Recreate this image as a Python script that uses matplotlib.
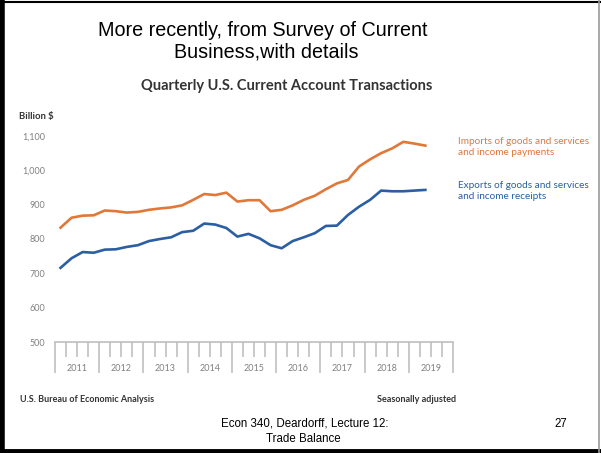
import matplotlib
matplotlib.use("Agg")
import matplotlib.pyplot as plt
from matplotlib.lines import Line2D
import matplotlib.transforms as mtransforms

# Quarterly values, 2011Q1 - 2019Q2 (billion $)
imports = [833, 862, 868, 869, 883, 881, 877, 879, 885, 889, 892, 898,
           914, 931, 928, 935, 909, 913, 913, 881, 885, 898, 914, 926,
           945, 962, 972, 1011, 1032, 1050, 1064, 1083, 1078, 1072]
exports = [716, 744, 762, 760, 769, 770, 777, 782, 794, 800, 805, 820,
           824, 845, 842, 832, 807, 815, 802, 782, 773, 794, 805, 817,
           838, 839, 870, 894, 914, 941, 939, 939, 941, 943]
years = ["2011", "2012", "2013", "2014", "2015", "2016", "2017", "2018", "2019"]
yticks = [500, 600, 700, 800, 900, 1000, 1100]

orange = "#E0783A"
blue = "#2B5EA3"
gray = "#808080"
chart_font = "Lato"
slide_font = "Liberation Sans"

fig = plt.figure(figsize=(6.01, 4.53), dpi=100)
ax = fig.add_axes([55 / 601, 1 - 342 / 453, 398 / 601, 206 / 453])

x = [i + 0.5 for i in range(len(imports))]
ax.plot(x, imports, color=orange, lw=1.9, solid_joinstyle="round")
ax.plot(x, exports, color=blue, lw=1.9, solid_joinstyle="round")

ax.set_xlim(0, 4 * len(years))
ax.set_ylim(500, 1100)

for s in ["top", "right", "left"]:
    ax.spines[s].set_visible(False)
ax.spines["bottom"].set_color("#bfbfbf")
ax.spines["bottom"].set_linewidth(1.2)

ax.set_yticks(yticks)
ax.set_yticklabels([f"{v:,}" for v in yticks], fontsize=6.5, color=gray,
                   family=chart_font)
ax.tick_params(axis="y", length=0, pad=7)

ax.set_xticks(range(0, 4 * len(years) + 1, 4))
ax.set_xticks(range(0, 4 * len(years) + 1), minor=True)
ax.set_xticklabels([])
ax.tick_params(axis="x", which="major", length=22, width=1.2, color="#c0c0c0",
               direction="out")
ax.tick_params(axis="x", which="minor", length=11, width=1.2, color="#c0c0c0",
               direction="out")

trans = mtransforms.blended_transform_factory(ax.transData, ax.transAxes)
for k, yr in enumerate(years):
    ax.text(4 * k + 2, -0.128, yr, transform=trans, ha="center", va="center",
            fontsize=6.5, color=gray, family=chart_font)

# series labels
fig.text(458 / 601, 1 - 147 / 453, "Imports of goods and services\nand income payments",
         color=orange, fontsize=7.2, family=chart_font, va="center",
         linespacing=1.2)
fig.text(458 / 601, 1 - 191 / 453, "Exports of goods and services\nand income receipts",
         color=blue, fontsize=7.2, family=chart_font, va="center",
         linespacing=1.2)

# titles
fig.text(263 / 601, 1 - 31 / 453, "More recently, from Survey of Current",
         ha="center", va="center", fontsize=14.2, family=slide_font)
fig.text(266 / 601, 1 - 52 / 453, "Business,with details",
         ha="center", va="center", fontsize=14.2, family=slide_font)
fig.text(287 / 601, 1 - 86 / 453, "Quarterly U.S. Current Account Transactions",
         ha="center", va="center", fontsize=10.5, fontweight="bold",
         family=chart_font, color="#333333")
fig.text(19 / 601, 1 - 117 / 453, "Billion $", ha="left", va="center",
         fontsize=6.8, fontweight="bold", family=chart_font, color="#333333")
fig.text(20 / 601, 1 - 399 / 453, "U.S. Bureau of Economic Analysis", ha="left",
         va="center", fontsize=6.5, fontweight="bold", family=chart_font,
         color="#333333")
fig.text(456 / 601, 1 - 399 / 453, "Seasonally adjusted", ha="right",
         va="center", fontsize=6.5, fontweight="bold", family=chart_font,
         color="#333333")

# footer
fig.text(305 / 601, 1 - 424 / 453, "Econ 340, Deardorff, Lecture 12:",
         ha="center", va="center", fontsize=8.3, family=slide_font)
fig.text(303 / 601, 1 - 439 / 453, "Trade Balance",
         ha="center", va="center", fontsize=8.3, family=slide_font)
fig.text(561 / 601, 1 - 424 / 453, "27", ha="center", va="center",
         fontsize=8.3, family=slide_font)

# slide border
fig.add_artist(Line2D([0.004, 0.004], [0, 1], color="black", lw=4))
fig.add_artist(Line2D([0, 1], [0.005, 0.005], color="black", lw=3.5))
fig.add_artist(Line2D([0, 1], [0.996, 0.996], color="black", lw=1.5))
fig.add_artist(Line2D([0.996, 0.996], [0, 1], color="#999999", lw=1.2))

fig.savefig("out.png", dpi=100)
